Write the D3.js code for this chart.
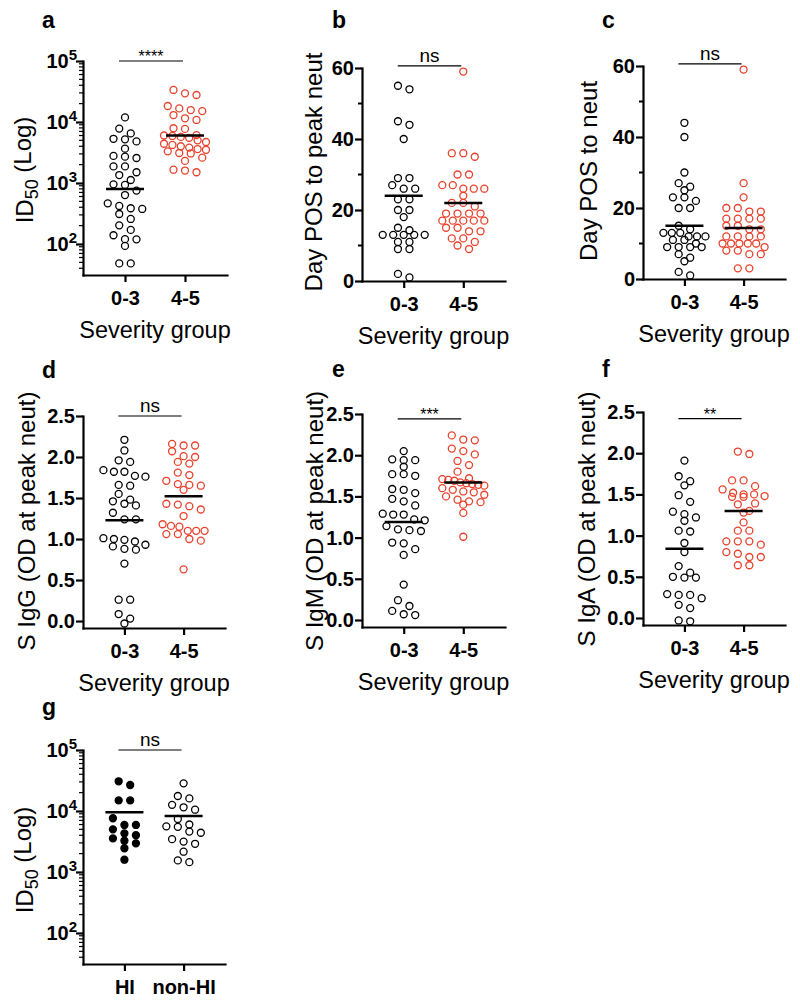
<!DOCTYPE html>
<html>
<head>
<meta charset="utf-8">
<script src="https://cdn.jsdelivr.net/npm/d3@7"></script>
<style>
  body { margin: 0; background: #fff; }
  text { font-family: "Liberation Sans", Arial, Helvetica, sans-serif; }
</style>
</head>
<body>
<div id="chart"></div>
<script>
// categories
const severity = ["0-3", "4-5"];
const hiGroups = ["HI", "non-HI"];

// a: ID50 by severity group
const aLow = [11900, 7800, 6500, 5300, 5200, 4800, 3650, 2780, 2700, 2570, 1870, 1870, 1500, 1350, 1120, 950, 930, 750, 634, 464, 420, 385, 375, 310, 257, 202, 170, 139, 120, 119, 93, 48, 48];
const aHigh = [33500, 29500, 27700, 18300, 16700, 15700, 15100, 13000, 11500, 10800, 7900, 7700, 6100, 6000, 5900, 5700, 5500, 5000, 4700, 4400, 4200, 4000, 3800, 3600, 3500, 3300, 3100, 3050, 2600, 2300, 1650, 1600, 1500];
const aMeans = [800, 6000];

// b: day POS to peak neut
const bLow = [55, 54, 45, 44, 40, 29, 29, 27, 26, 26, 23, 23, 20, 20, 18, 15, 14.3, 13, 13, 13, 13, 13, 11, 11, 9, 9, 2, 1];
const bHigh = [59, 36, 36, 35, 30, 30, 27, 27, 26, 26, 26, 24, 22, 22, 21, 19, 19, 19, 19, 17, 17, 17, 17, 17, 15, 15, 14, 14, 12, 12, 11, 10, 9];
const bMeans = [24, 22];

// c: day POS to neut
const cLow = [44, 40, 30, 27, 26, 25, 23, 23, 22, 20, 20, 15, 14, 13, 13, 13, 12, 12, 12, 11, 11, 10, 9, 9, 9, 9, 7, 6, 5, 2, 1];
const cHigh = [59, 27, 23, 20, 20, 19, 19, 17, 17, 17, 17, 15, 15, 14, 14, 12, 12, 12, 12, 10, 10, 10, 10, 10, 9, 8, 8, 7, 7, 3, 3];
const cMeans = [15, 14.4];

// d: S IgG
const dLow = [2.21, 2.08, 1.96, 1.94, 1.84, 1.82, 1.82, 1.77, 1.76, 1.66, 1.65, 1.55, 1.48, 1.46, 1.43, 1.41, 1.32, 1.24, 1.24, 1.01, 1.00, 0.99, 0.97, 0.93, 0.91, 0.88, 0.87, 0.70, 0.26, 0.26, 0.085, 0.03, -0.03];
const dHigh = [2.16, 2.14, 2.14, 2.07, 2.01, 2.00, 1.94, 1.92, 1.81, 1.78, 1.71, 1.67, 1.66, 1.65, 1.60, 1.43, 1.42, 1.40, 1.36, 1.28, 1.18, 1.16, 1.15, 1.10, 1.10, 1.10, 1.06, 1.06, 1.00, 0.98, 0.63];
const dMeans = [1.23, 1.52];

// e: S IgM
const eLow = [2.05, 1.95, 1.94, 1.94, 1.86, 1.77, 1.77, 1.75, 1.59, 1.58, 1.54, 1.47, 1.44, 1.39, 1.29, 1.28, 1.28, 1.22, 1.21, 1.14, 1.10, 1.09, 1.08, 0.94, 0.93, 0.86, 0.79, 0.43, 0.24, 0.17, 0.11, 0.07, 0.06];
const eHigh = [2.24, 2.19, 2.18, 2.08, 2.05, 2.01, 1.93, 1.88, 1.80, 1.72, 1.71, 1.70, 1.69, 1.67, 1.66, 1.65, 1.64, 1.63, 1.60, 1.58, 1.56, 1.55, 1.52, 1.50, 1.46, 1.44, 1.43, 1.40, 1.30, 1.01];
const eMeans = [1.19, 1.67];

// f: S IgA
const fLow = [1.91, 1.72, 1.66, 1.61, 1.49, 1.41, 1.29, 1.26, 1.22, 1.18, 1.06, 1.05, 0.91, 0.80, 0.63, 0.55, 0.50, 0.49, 0.49, 0.29, 0.28, 0.28, 0.24, 0.16, 0.12, -0.03, -0.04];
const fHigh = [2.02, 1.99, 1.67, 1.67, 1.60, 1.56, 1.52, 1.50, 1.50, 1.48, 1.47, 1.47, 1.39, 1.38, 1.30, 1.28, 1.16, 1.06, 1.06, 0.93, 0.93, 0.93, 0.89, 0.80, 0.78, 0.74, 0.74, 0.64, 0.64];
const fMeans = [0.84, 1.30];

// g: ID50 HI vs non-HI
const gHI = [30700, 26700, 14900, 14900, 7600, 5900, 5900, 5000, 4300, 4000, 3550, 3250, 2950, 2450, 1590];
const gNonHI = [28400, 17600, 16100, 12600, 11500, 10500, 7400, 6000, 5600, 5500, 4600, 4400, 3450, 3150, 2900, 2150, 1550, 1450];
const gMeans = [9500, 8300];

// tick values
const logTicks = [1e2, 1e3, 1e4, 1e5];
const dayTicks = [0, 20, 40, 60];
const dayMinor = [10, 30, 50];
const odTicks = [0, 0.5, 1.0, 1.5, 2.0, 2.5];

const red = "#e8412c";

const svg = d3.select("#chart").append("svg")
  .attr("width", 800)
  .attr("height", 1005);

const panels = [
  {letter: "a", lx: 42, ly: 28, x0: 83, x1: 227, yTop: 61, yBot: 275, log: true, domain: [31, 1e5],
   cats: severity, groups: [aLow, aHigh], means: aMeans, filled: [false, false], colors: ["#000", red],
   sig: "****", sigY: 1e5, ylab: null, labX: 33, labY: 170, xtitle: true},
  {letter: "b", lx: 332, ly: 28, x0: 362, x1: 505, yTop: 68, yBot: 281, log: false, domain: [0, 60],
   ticks: dayTicks, minor: dayMinor, fmt: d3.format("d"),
   cats: severity, groups: [bLow, bHigh], means: bMeans, filled: [false, false], colors: ["#000", red],
   sig: "ns", sigY: 60.6, ylab: "Day POS to peak neut", labX: 322, labY: 172, xtitle: true},
  {letter: "c", lx: 602, ly: 28, x0: 643, x1: 785, yTop: 66, yBot: 279, log: false, domain: [0, 60],
   ticks: dayTicks, minor: dayMinor, fmt: d3.format("d"),
   cats: severity, groups: [cLow, cHigh], means: cMeans, filled: [false, false], colors: ["#000", red],
   sig: "ns", sigY: 60.6, ylab: "Day POS to neut", labX: 597, labY: 171, xtitle: true},
  {letter: "d", lx: 42, ly: 378, x0: 83, x1: 225, yTop: 416, yBot: 628, log: false, domain: [-0.085, 2.5],
   ticks: odTicks, minor: [], fmt: d3.format(".1f"),
   cats: severity, groups: [dLow, dHigh], means: dMeans, filled: [false, false], colors: ["#000", red],
   sig: "ns", sigY: 2.5, ylab: "S IgG (OD at peak neut)", labX: 35, labY: 521, xtitle: true},
  {letter: "e", lx: 332, ly: 377, x0: 362, x1: 505, yTop: 414, yBot: 627, log: false, domain: [-0.085, 2.5],
   ticks: odTicks, minor: [], fmt: d3.format(".1f"),
   cats: severity, groups: [eLow, eHigh], means: eMeans, filled: [false, false], colors: ["#000", red],
   sig: "***", sigY: 2.44, ylab: "S IgM (OD at peak neut)", labX: 323, labY: 521, xtitle: true},
  {letter: "f", lx: 602, ly: 377, x0: 643, x1: 785, yTop: 412, yBot: 625, log: false, domain: [-0.085, 2.5],
   ticks: odTicks, minor: [], fmt: d3.format(".1f"),
   cats: severity, groups: [fLow, fHigh], means: fMeans, filled: [false, false], colors: ["#000", red],
   sig: "**", sigY: 2.42, ylab: "S IgA (OD at peak neut)", labX: 595, labY: 519, xtitle: true},
  {letter: "g", lx: 42, ly: 715, x0: 83, x1: 225, yTop: 750, yBot: 964, log: true, domain: [31, 1e5],
   cats: hiGroups, groups: [gHI, gNonHI], means: gMeans, filled: [true, false], colors: ["#000", "#000"],
   sig: "ns", sigY: 1e5, ylab: null, labX: 33, labY: 860, xtitle: false}
];

// spread points of similar height into symmetric rows (prism style)
function swarm(vals, y) {
  const pts = vals.map(v => ({v: v, py: y(v)})).sort((a, b) => a.py - b.py);
  const rows = [];
  pts.forEach(p => {
    const last = rows[rows.length - 1];
    if (last && p.py - last[0].py < 7) last.push(p);
    else rows.push([p]);
  });
  rows.forEach(row => {
    const n = row.length;
    const s = n > 1 ? Math.min(11.5, 42 / (n - 1)) : 0;
    row.forEach((p, i) => { p.dx = (i - (n - 1) / 2) * s; });
  });
  return pts;
}

panels.forEach(p => {
  const g = svg.append("g");

  const y = (p.log ? d3.scaleLog() : d3.scaleLinear())
    .domain(p.domain)
    .range([p.yBot, p.yTop]);

  const x = d3.scalePoint()
    .domain(p.cats)
    .range([p.x0, p.x1])
    .padding(0.7);

  // panel letter
  g.append("text")
    .attr("x", p.lx).attr("y", p.ly)
    .style("font-size", "23px").style("font-weight", "bold")
    .text(p.letter);

  // y axis
  const yAxis = d3.axisLeft(y).tickSize(7).tickSizeOuter(0).tickPadding(1);
  if (p.log) yAxis.tickValues(logTicks).tickFormat(() => "");
  else yAxis.tickValues(p.ticks).tickFormat(p.fmt);

  const ya = g.append("g")
    .attr("transform", `translate(${p.x0},0)`)
    .call(yAxis);
  ya.selectAll("path, line").attr("stroke", "#000").attr("stroke-width", 2.2);
  ya.select(".domain").attr("stroke-linecap", "square");
  ya.selectAll(".tick text")
    .attr("fill", "#000")
    .style("font-size", "20px").style("font-weight", "bold")
    .style("font-family", "'Liberation Sans', Arial, sans-serif");

  if (p.log) {
    ya.selectAll(".tick text").each(function(d) {
      const t = d3.select(this);
      t.attr("x", -6);
      t.append("tspan").text("10");
      t.append("tspan").attr("dy", "-0.55em").style("font-size", "15px")
        .text(Math.round(Math.log10(d)));
    });
    const minor = [];
    for (let e = 1; e < 5; e++) {
      for (let k = 2; k < 10; k++) {
        const v = k * Math.pow(10, e);
        if (v >= p.domain[0] && v <= p.domain[1]) minor.push(v);
      }
    }
    g.selectAll(".minor").data(minor).join("line")
      .attr("x1", p.x0 - 4).attr("x2", p.x0)
      .attr("y1", d => y(d)).attr("y2", d => y(d))
      .attr("stroke", "#000").attr("stroke-width", 1.2);
  } else if (p.minor.length) {
    g.selectAll(".minor").data(p.minor).join("line")
      .attr("x1", p.x0 - 4).attr("x2", p.x0)
      .attr("y1", d => y(d)).attr("y2", d => y(d))
      .attr("stroke", "#000").attr("stroke-width", 2);
  }

  // x axis
  const xa = g.append("g")
    .attr("transform", `translate(0,${p.yBot})`)
    .call(d3.axisBottom(x).tickSize(7).tickSizeOuter(0).tickPadding(9));
  xa.selectAll("path, line").attr("stroke", "#000").attr("stroke-width", 2.2);
  xa.select(".domain").attr("stroke-linecap", "square");
  xa.selectAll(".tick text")
    .attr("fill", "#000")
    .style("font-size", "20px").style("font-weight", "bold")
    .style("font-family", "'Liberation Sans', Arial, sans-serif");

  // y axis title
  const yl = g.append("text")
    .attr("transform", `translate(${p.labX},${p.labY}) rotate(-90)`)
    .attr("text-anchor", "middle")
    .style("font-size", "24px");
  if (p.ylab) {
    yl.text(p.ylab);
  } else {
    yl.append("tspan").text("ID");
    yl.append("tspan").attr("dy", "0.3em").style("font-size", "18px").text("50");
    yl.append("tspan").attr("dy", "-0.3em").text(" (Log)");
  }

  // x axis title
  if (p.xtitle) {
    g.append("text")
      .attr("x", (p.x0 + p.x1) / 2).attr("y", p.yBot + 63)
      .attr("text-anchor", "middle")
      .style("font-size", "23.5px")
      .text("Severity group");
  }

  // points
  p.groups.forEach((vals, i) => {
    const cx = x(p.cats[i]);
    const pts = swarm(vals, y);
    g.append("g").selectAll("circle").data(pts).join("circle")
      .attr("cx", d => cx + d.dx)
      .attr("cy", d => d.py)
      .attr("r", 3.5)
      .attr("fill", p.filled[i] ? p.colors[i] : "none")
      .attr("stroke", p.colors[i])
      .attr("stroke-width", 1.3);
  });

  // mean lines
  g.selectAll(".mean").data(p.means).join("line")
    .attr("x1", (d, i) => x(p.cats[i]) - 19)
    .attr("x2", (d, i) => x(p.cats[i]) + 19)
    .attr("y1", d => y(d)).attr("y2", d => y(d))
    .attr("stroke", "#000").attr("stroke-width", 2.5);

  // significance bar
  const sx1 = x(p.cats[0]) - 6, sx2 = x(p.cats[1]) - 2;
  const sy = y(p.sigY);
  g.append("line")
    .attr("x1", sx1).attr("x2", sx2)
    .attr("y1", sy).attr("y2", sy)
    .attr("stroke", "#000").attr("stroke-width", 1.2);
  const isStar = p.sig.indexOf("*") >= 0;
  g.append("text")
    .attr("x", (sx1 + sx2) / 2)
    .attr("y", isStar ? sy + 1 : sy - 4)
    .attr("text-anchor", "middle")
    .style("font-size", isStar ? "16px" : "19px")
    .text(p.sig);
});
</script>
</body>
</html>
